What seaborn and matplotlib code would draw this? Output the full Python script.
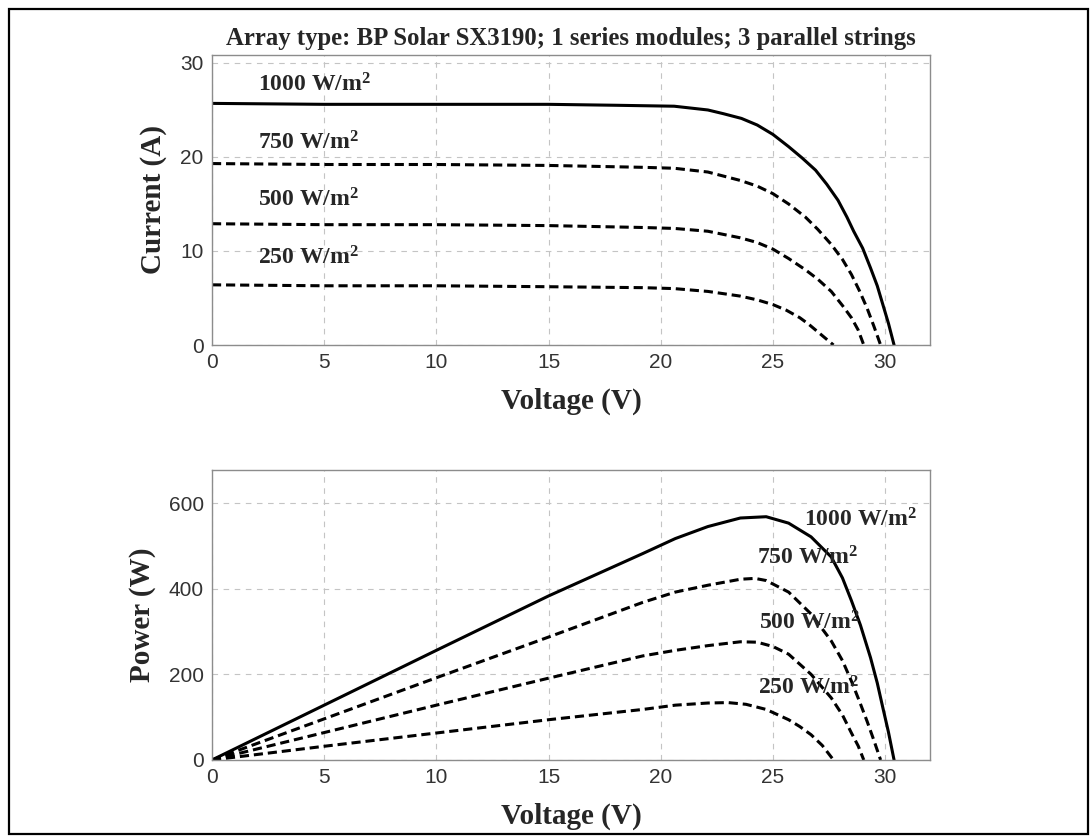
#!/usr/bin/env python3
"""I-V and P-V curves of a BP Solar SX3190 array at four irradiance levels"""

import matplotlib
matplotlib.use("Agg")
import matplotlib.pyplot as plt
import seaborn as sns
from matplotlib.patches import Rectangle

# irradiance levels (W/m^2) shown on both plots
irradiance = ["1000", "750", "500", "250"]

# I-V curves
iv_v_1000 = [0, 5, 10, 15, 18, 20.6, 22.1, 22.8, 23.6, 24.3, 25.0, 25.7, 26.3, 26.9,
             27.4, 27.9, 28.3, 28.6, 29.0, 29.35, 29.65, 29.9, 30.15, 30.4]
iv_i_1000 = [25.7, 25.6, 25.6, 25.6, 25.5, 25.4, 25.0, 24.6, 24.1, 23.4, 22.4, 21.1, 19.9, 18.6,
             17.1, 15.4, 13.6, 12.1, 10.3, 8.2, 6.3, 4.3, 2.3, 0]
iv_v_750 = [0, 5, 10, 15, 19.2, 20.6, 22.1, 23.55, 24.3, 25.0, 25.7, 26.45, 27.0, 27.6,
            28.1, 28.5, 28.85, 29.2, 29.5, 29.8]
iv_i_750 = [19.3, 19.2, 19.2, 19.1, 18.9, 18.8, 18.4, 17.5, 16.9, 16.1, 15.0, 13.6, 12.3, 10.7,
            9.1, 7.5, 5.8, 3.9, 2.0, 0]
iv_v_500 = [0, 5, 10, 15, 19.2, 20.6, 22.1, 23.55, 24.3, 25.0, 25.7, 26.45, 27.0, 27.6,
            28.1, 28.5, 28.8, 29.05]
iv_i_500 = [12.9, 12.8, 12.8, 12.7, 12.5, 12.4, 12.1, 11.4, 10.9, 10.2, 9.2, 8.0, 7.0, 5.7,
            4.2, 2.9, 1.6, 0]
iv_v_250 = [0, 5, 10, 15, 19.2, 20.6, 22.1, 23.55, 24.3, 25.0, 25.6, 26.2, 26.6, 27.0,
            27.35, 27.7]
iv_i_250 = [6.4, 6.3, 6.3, 6.2, 6.1, 6.0, 5.7, 5.2, 4.8, 4.3, 3.7, 2.9, 2.2, 1.4, 0.7, 0]

# P-V curves
pv_v_1000 = [0, 5, 10, 15, 19.2, 20.65, 22.1, 23.55, 24.7, 25.7, 26.7, 27.6, 28.1, 28.5,
             28.9, 29.35, 29.65, 29.9, 30.15, 30.4]
pv_p_1000 = [0, 128, 256, 383, 482, 517, 545, 565, 568, 553, 521, 474, 425, 372,
             315, 239, 180, 122, 65, 0]
pv_v_750 = [0, 5, 10, 15, 19.2, 20.65, 22.1, 23.55, 24.2, 24.7, 25.7, 26.7, 27.6, 28.1,
            28.5, 28.85, 29.2, 29.5, 29.8]
pv_p_750 = [0, 96, 192, 287, 368, 392, 408, 422, 424, 419, 392, 341, 278, 232,
            184, 138, 90, 46, 0]
pv_v_500 = [0, 5, 10, 15, 19.2, 20.65, 22.1, 23.55, 24.3, 25.0, 25.7, 26.7, 27.6, 28.1,
            28.5, 28.8, 29.05]
pv_p_500 = [0, 64, 128, 191, 243, 256, 267, 276, 275, 265, 247, 200, 145, 105,
            63, 33, 0]
pv_v_250 = [0, 5, 10, 15, 19.2, 20.65, 22.1, 23.0, 23.8, 24.7, 25.7, 26.2, 26.7, 27.2, 27.7]
pv_p_250 = [0, 32, 63, 94, 118, 128, 133, 134, 130, 118, 94, 78, 59, 34, 0]

iv_curves = [(iv_v_1000, iv_i_1000), (iv_v_750, iv_i_750), (iv_v_500, iv_i_500), (iv_v_250, iv_i_250)]
pv_curves = [(pv_v_1000, pv_p_1000), (pv_v_750, pv_p_750), (pv_v_500, pv_p_500), (pv_v_250, pv_p_250)]

x_ticks = [0, 5, 10, 15, 20, 25, 30]
iv_ticks = [0, 10, 20, 30]
pv_ticks = [0, 200, 400, 600]

# label anchor points (voltage, value) for each irradiance
iv_label_pos = [(2.05, 27.7), (2.05, 21.5), (2.05, 15.4), (2.05, 9.3)]
pv_label_pos = [(26.4, 561), (24.3, 472), (24.4, 320), (24.35, 168)]

SERIF = "Liberation Serif"
SANS = "Liberation Sans"
DASH = (0, (3.0, 1.6))


def style_axes(ax, yticks, ylim, ylabel):
    ax.set_xlim(0, 32)
    ax.set_ylim(*ylim)
    ax.set_xticks(x_ticks)
    ax.set_yticks(yticks)
    ax.grid(True, color="#c4c4c4", linestyle=(0, (5, 5)), linewidth=0.8)
    ax.set_axisbelow(True)
    for sp in ax.spines.values():
        sp.set_color("#8c8c8c")
        sp.set_linewidth(1.0)
    ax.tick_params(direction="in", length=4, color="#8c8c8c", labelcolor="#333333",
                   labelsize=15, pad=6)
    for lab in ax.get_xticklabels() + ax.get_yticklabels():
        lab.set_family(SANS)
    ax.set_xlabel("Voltage (V)", fontsize=21, fontweight="bold", family=SERIF, labelpad=11)
    ax.set_ylabel(ylabel, fontsize=21, fontweight="bold", family=SERIF)


def main():
    sns.set_style("white")
    plt.rcParams["font.family"] = [SERIF, "DejaVu Serif"]
    plt.rcParams["mathtext.fontset"] = "custom"
    plt.rcParams["mathtext.rm"] = "Liberation Serif:bold"
    plt.rcParams["mathtext.bf"] = "Liberation Serif:bold"
    plt.rcParams["mathtext.default"] = "rm"

    fig = plt.figure(figsize=(10.91, 8.38), dpi=100)
    ax_iv = fig.add_axes([0.1943, 0.5883, 0.6581, 0.3461])
    ax_pv = fig.add_axes([0.1943, 0.0931, 0.6581, 0.3460])

    for k, (v, i) in enumerate(iv_curves):
        ls = "-" if k == 0 else DASH
        sns.lineplot(x=v, y=i, ax=ax_iv, color="black", linewidth=2.2,
                     linestyle=ls, estimator=None, sort=False)
    for k, (v, p) in enumerate(pv_curves):
        ls = "-" if k == 0 else DASH
        sns.lineplot(x=v, y=p, ax=ax_pv, color="black", linewidth=2.2,
                     linestyle=ls, estimator=None, sort=False)

    style_axes(ax_iv, iv_ticks, (0, 30.85), "Current (A)")
    style_axes(ax_pv, pv_ticks, (0, 677), "Power (W)")
    ax_iv.yaxis.set_label_coords(-0.063, 0.5)
    ax_pv.yaxis.set_label_coords(-0.078, 0.5)

    for name, (x, y) in zip(irradiance, iv_label_pos):
        ax_iv.text(x, y, name + r" W/m$^{2}$", fontsize=17, fontweight="bold",
                   family=SERIF, ha="left", va="center")
    for name, (x, y) in zip(irradiance, pv_label_pos):
        ax_pv.text(x, y, name + r" W/m$^{2}$", fontsize=17, fontweight="bold",
                   family=SERIF, ha="left", va="center")

    ax_iv.set_title("Array type: BP Solar SX3190; 1 series modules; 3 parallel strings",
                    fontsize=17.8, fontweight="bold", family=SERIF, pad=7)

    # black frame around the whole figure
    fig.patches.append(Rectangle((0.0085, 0.0045), 0.9885, 0.985, transform=fig.transFigure,
                                 fill=False, edgecolor="black", linewidth=1.6))

    fig.savefig("out.png", dpi=100)
    plt.close(fig)


if __name__ == "__main__":
    main()
